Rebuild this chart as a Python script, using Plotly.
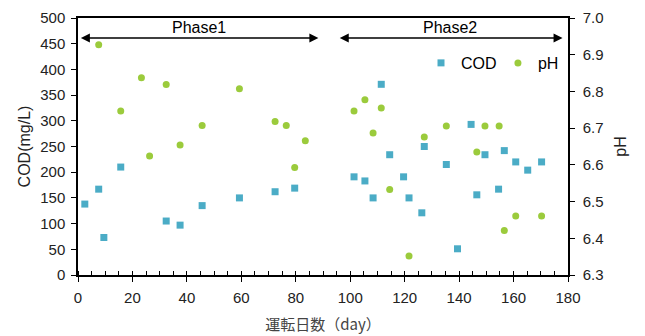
import plotly.graph_objects as go

cod_days = [2.5, 7.6, 9.5, 15.7, 32.4, 37.5, 45.6, 59.3, 72.4, 79.6, 101.4, 105.4, 108.4, 111.4, 114.5,
            119.6, 121.6, 126.3, 127.2, 135.3, 139.4, 144.4, 146.5, 149.5, 154.5, 156.6, 160.8, 165.2, 170.3]
cod_vals = [138, 167, 73, 210, 105, 97, 135, 150, 162, 169, 191, 183, 150, 371, 234,
            191, 150, 121, 250, 215, 51, 293, 156, 234, 167, 242, 220, 204, 220]

ph_days = [7.6, 15.7, 23.3, 26.3, 32.4, 37.5, 45.6, 59.3, 72.4, 76.5, 79.6, 83.5, 101.4, 105.4,
           108.4, 111.4, 114.5, 121.6, 127.2, 135.3, 146.5, 149.5, 154.7, 156.6, 160.8, 170.3]
ph_vals = [6.927, 6.747, 6.837, 6.624, 6.819, 6.654, 6.707, 6.807, 6.718, 6.707, 6.593, 6.666, 6.747,
           6.777, 6.687, 6.755, 6.533, 6.352, 6.676, 6.706, 6.635, 6.706, 6.706, 6.421, 6.461, 6.461]

phases = ["Phase1", "Phase2"]
phase_start = [0.5, 95.6]
phase_end = [88.3, 178]
phase_arrow_y = 461
phase_label_y = 481

COD_COLOR = "#4BACC6"
PH_COLOR = "#9BCB3C"
FONT = "Liberation Sans, Arial, sans-serif"
JP_FONT = "Noto Sans CJK JP, sans-serif"

fig = go.Figure()
fig.add_trace(go.Scatter(x=cod_days, y=cod_vals, mode="markers", name="COD", legend="legend",
                         marker=dict(symbol="square", size=7, color=COD_COLOR)))
fig.add_trace(go.Scatter(x=ph_days, y=ph_vals, mode="markers", name="pH", yaxis="y2", legend="legend2",
                         marker=dict(symbol="circle", size=7, color=PH_COLOR)))

for name, s, e in zip(phases, phase_start, phase_end):
    fig.add_annotation(x=e, y=phase_arrow_y, ax=s, ay=phase_arrow_y, xref="x", yref="y",
                       axref="x", ayref="y", text="", showarrow=True, arrowhead=2,
                       arrowside="end+start", arrowsize=1.2, arrowwidth=1.5, arrowcolor="black")
    fig.add_annotation(x=(s + e) / 2, y=phase_label_y, xref="x", yref="y", text=name,
                       showarrow=False, font=dict(family=FONT, size=16, color="black"))

axis_common = dict(showgrid=False, zeroline=False, linecolor="black", linewidth=1.5,
                   ticks="outside", tickcolor="black", ticklen=5, automargin=False,
                   tickfont=dict(family=FONT, size=15, color="#222"))

legend_common = dict(orientation="h", y=0.825, xanchor="left", yanchor="middle",
                     bgcolor="rgba(0,0,0,0)", font=dict(family=FONT, size=16, color="black"),
                     itemwidth=30)

fig.update_layout(
    width=645, height=336,
    margin=dict(l=70, r=85, t=10, b=69, autoexpand=False),
    plot_bgcolor="white", paper_bgcolor="white",
    xaxis=dict(range=[0, 180], dtick=20, tick0=0, mirror=True, ticklabelstandoff=3,
               minor=dict(dtick=5, ticks="inside", ticklen=4, tickcolor="black"),
               title=dict(text="運転日数（day）", font=dict(family=JP_FONT, size=15, color="#444"),
                          standoff=15),
               **axis_common),
    yaxis=dict(range=[0, 500], dtick=50, ticklabelstandoff=3,
               title=dict(text="COD(mg/L)", font=dict(family=FONT, size=16, color="#222"), standoff=6),
               **axis_common),
    yaxis2=dict(range=[6.3, 7.0], dtick=0.1, overlaying="y", side="right", tickformat=".1f",
                ticklabelstandoff=5,
                title=dict(text="pH", font=dict(family=FONT, size=16, color="#222"), standoff=12),
                **axis_common),
    legend=dict(x=0.70, **legend_common),
    legend2=dict(x=0.857, **legend_common),
    showlegend=True,
)

fig.write_html("out.html")
